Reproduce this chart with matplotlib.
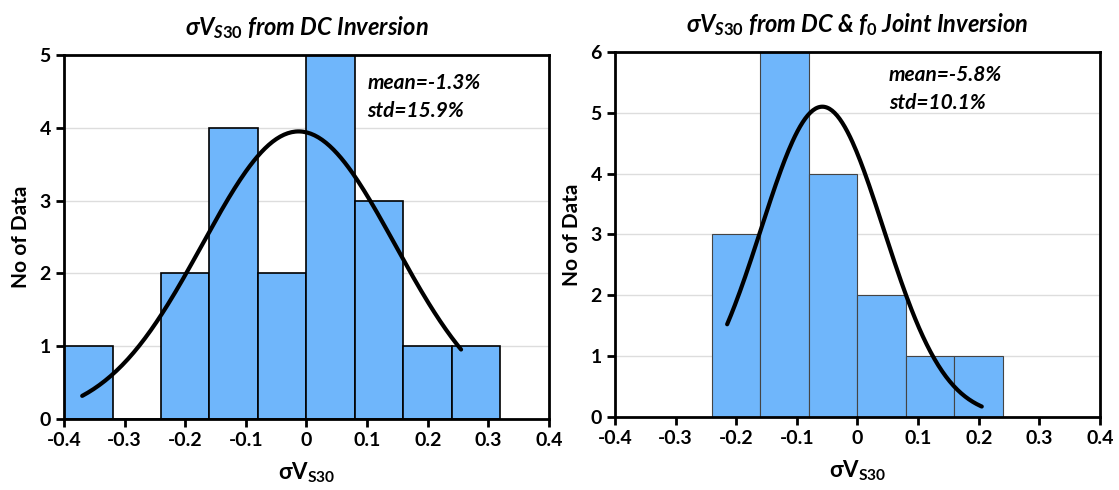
import numpy as np
import matplotlib
matplotlib.use("Agg")
import matplotlib.pyplot as plt

# histogram data (bin edges width 0.08)
bin_edges_dc = [-0.40, -0.32, -0.24, -0.16, -0.08, 0.00, 0.08, 0.16, 0.24, 0.32]
counts_dc = [1, 0, 2, 4, 2, 5, 3, 1, 1]
bin_edges_joint = [-0.24, -0.16, -0.08, 0.00, 0.08, 0.16, 0.24]
counts_joint = [3, 6, 4, 2, 1, 1]

# fitted normal curves: mean, std, peak height, x range
mean_dc, std_dc, peak_dc, xr_dc = -0.013, 0.159, 3.95, (-0.37, 0.255)
mean_joint, std_joint, peak_joint, xr_joint = -0.058, 0.101, 5.1, (-0.215, 0.205)

plt.rcParams['font.family'] = ['Lato', 'DejaVu Sans']
plt.rcParams['font.weight'] = 'bold'
plt.rcParams['axes.labelweight'] = 'bold'
plt.rcParams['axes.titleweight'] = 'bold'
plt.rcParams['mathtext.fontset'] = 'custom'
plt.rcParams['mathtext.rm'] = 'Lato:bold'
plt.rcParams['mathtext.it'] = 'Lato:bold:italic'
plt.rcParams['mathtext.bf'] = 'Lato:bold'

BAR = '#6fb6fb'

fig = plt.figure(figsize=(11.19, 4.90), dpi=100)
ax1 = fig.add_axes([0.0572, 0.1449, 0.4334, 0.7429])
ax2 = fig.add_axes([0.5496, 0.149, 0.4334, 0.745])


def draw(ax, edges, counts, mean, std, peak, xr, ymax, title, edgecol, lw, txtx, txty):
    edges = np.array(edges)
    ax.bar(edges[:-1], counts, width=np.diff(edges), align='edge',
           color=BAR, edgecolor=edgecol, linewidth=lw, zorder=2)
    x = np.linspace(xr[0], xr[1], 200)
    y = peak * np.exp(-0.5 * ((x - mean) / std) ** 2)
    ax.plot(x, y, color='black', lw=3, zorder=3, solid_capstyle='round')
    ax.set_xlim(-0.4, 0.4)
    ax.set_ylim(0, ymax)
    ax.set_xticks(np.arange(-0.4, 0.41, 0.1))
    ax.set_xticklabels(['-0.4', '-0.3', '-0.2', '-0.1', '0', '0.1', '0.2', '0.3', '0.4'])
    ax.set_yticks(range(ymax + 1))
    ax.yaxis.grid(True, color='#dddddd', lw=1, zorder=0)
    ax.set_axisbelow(True)
    for s in ax.spines.values():
        s.set_linewidth(2)
    ax.tick_params(direction='out', width=2, length=6, labelsize=14)
    ax.set_ylabel('No of Data', fontsize=15, labelpad=6)
    ax.set_xlabel(r'σ$\mathrm{V_{S30}}$', fontsize=16, labelpad=8)
    ax.set_title(title, fontsize=17, fontstyle='italic', pad=14)
    ax.text(txtx, txty, 'mean=%.1f%%\nstd=%.1f%%' % (mean * 100, std * 100),
            transform=ax.transAxes, fontsize=15,
            fontstyle='italic', va='top', linespacing=1.5)


draw(ax1, bin_edges_dc, counts_dc, mean_dc, std_dc, peak_dc, xr_dc, 5,
     r'σ$V_{S30}$ from DC Inversion', 'black', 1.2, 0.625, 0.95)
draw(ax2, bin_edges_joint, counts_joint, mean_joint, std_joint, peak_joint, xr_joint, 6,
     r'σ$V_{S30}$ from DC & $f_0$ Joint Inversion', '#444444', 0.8, 0.565, 0.965)

fig.savefig('out.png', dpi=100)
